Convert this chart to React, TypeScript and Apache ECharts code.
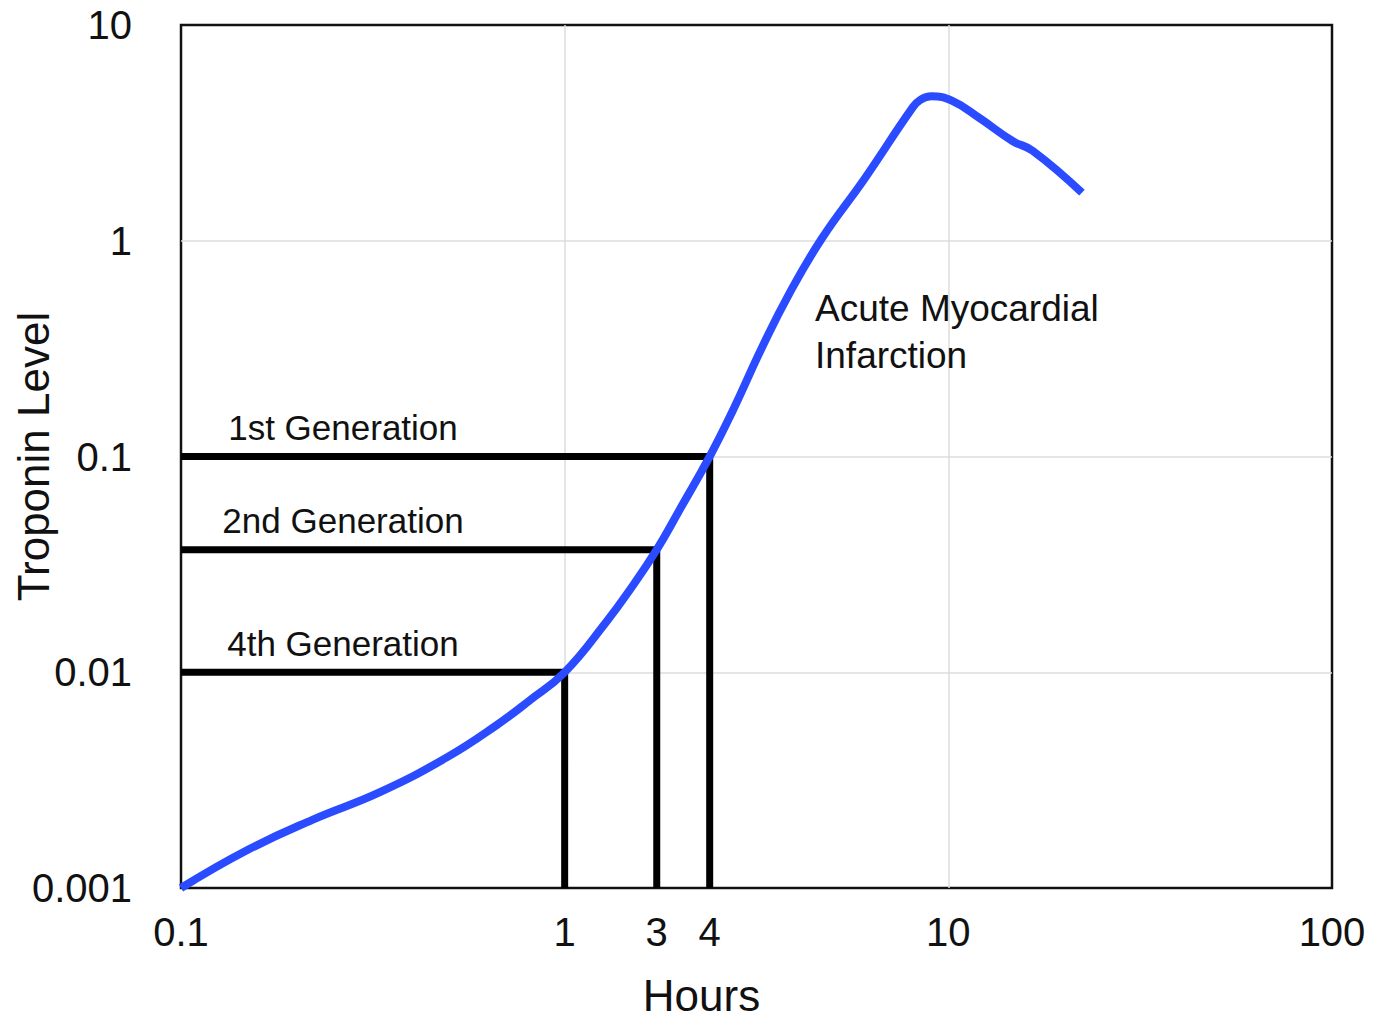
import React, { useEffect, useRef } from "react";
import * as echarts from "echarts";

// Schematic hours axis: decades are evenly spaced, with 3 h and 4 h placed at fixed stops.
const hourKnots = [0.1, 1, 3, 4, 10, 100];
const hourTickLabels = ["0.1", "1", "3", "4", "10", "100"];
const knotStops = [0, 1, 1.24, 1.378, 2, 3];

// Troponin level after onset of acute myocardial infarction
const curveHours = [
  0.1, 0.149, 0.22, 0.33, 0.493, 0.665, 0.811, 1, 1.65, 2.17, 3, 3.4, 4, 4.37,
  4.89, 5.43, 6.16, 7.25, 8.71, 8.98, 9.37, 10.24, 12.04, 14.7, 16.6, 22.3,
];
const curveLevels = [
  0.001, 0.0015, 0.00207, 0.00278, 0.00403, 0.00569, 0.00741, 0.01, 0.0172,
  0.024, 0.037, 0.0568, 0.1, 0.163, 0.32, 0.569, 1.03, 1.94, 4.13, 4.5, 4.67,
  4.45, 3.71, 2.9, 2.61, 1.67,
];

// Assay generations: detection limit and the hour at which it is reached
const generationNames = ["1st Generation", "2nd Generation", "4th Generation"];
const generationLimits = [0.1, 0.037, 0.01];
const generationHours = [4, 3, 1];

const yTickLabels = ["0.001", "0.01", "0.1", "1", "10"];

const FONT = "'Liberation Sans', Arial, Helvetica, sans-serif";
const INK = "#111111";

const GRID = { left: 181, right: 44, top: 25, bottom: 130 };

function hourToStop(h: number): number {
  for (let i = 0; i < hourKnots.length - 1; i++) {
    const a = hourKnots[i];
    const b = hourKnots[i + 1];
    if (h <= b || i === hourKnots.length - 2) {
      const t = Math.log(h / a) / Math.log(b / a);
      return knotStops[i] + t * (knotStops[i + 1] - knotStops[i]);
    }
  }
  return 0;
}

function stopLabel(v: number): string {
  for (let i = 0; i < knotStops.length; i++) {
    if (Math.abs(knotStops[i] - v) < 1e-6) return hourTickLabels[i];
  }
  return "";
}

export default function App() {
  const ref = useRef<HTMLDivElement>(null);

  useEffect(() => {
    if (!ref.current) return;
    const chart = echarts.init(ref.current, null, { renderer: "svg" });

    const yMin = Number(yTickLabels[0]);
    const yMax = Number(yTickLabels[yTickLabels.length - 1]);

    const generationSeries = generationNames.map((name, i) => ({
      type: "line",
      name,
      data: [
        [hourToStop(hourKnots[0]), generationLimits[i]],
        [hourToStop(generationHours[i]), generationLimits[i]],
        [hourToStop(generationHours[i]), yMin],
      ],
      showSymbol: false,
      symbol: "none",
      lineStyle: { color: "#000000", width: 7, join: "miter", cap: "butt" },
      z: 3,
    }));

    const option: any = {
      animation: false,
      backgroundColor: "#ffffff",
      grid: {
        ...GRID,
        outerBoundsMode: "none",
        containLabel: false,
        show: true,
        borderColor: "#111111",
        borderWidth: 2.5,
        backgroundColor: "transparent",
      },
      xAxis: {
        type: "value",
        min: 0,
        max: 3,
        interval: 1,
        name: "Hours",
        nameLocation: "middle",
        nameGap: 85,
        nameMoveOverlap: false,
        nameTextStyle: {
          fontFamily: FONT,
          fontSize: 44,
          lineHeight: 44,
          color: INK,
          padding: [0, 110, 0, 0],
        },
        axisLine: { show: false },
        axisTick: { show: false },
        axisLabel: {
          customValues: knotStops,
          formatter: (v: number) => stopLabel(v),
          fontFamily: FONT,
          fontSize: 40,
          color: INK,
          margin: 24,
          showMinLabel: true,
          showMaxLabel: true,
        },
        splitLine: {
          show: true,
          showMinLine: false,
          showMaxLine: false,
          lineStyle: { color: "#dcdcdc", width: 1.5 },
        },
      },
      yAxis: {
        type: "log",
        logBase: 10,
        min: yMin,
        max: yMax,
        name: "Troponin Level",
        nameLocation: "middle",
        nameGap: 126,
        nameMoveOverlap: false,
        nameTextStyle: { fontFamily: FONT, fontSize: 44, color: INK },
        axisLine: { show: false },
        axisTick: { show: false },
        axisLabel: {
          formatter: (v: number) => {
            const s = String(Number(v.toPrecision(3)));
            return yTickLabels.includes(s) ? s : "";
          },
          fontFamily: FONT,
          fontSize: 40,
          color: INK,
          margin: 49,
          showMinLabel: true,
          showMaxLabel: true,
        },
        splitLine: {
          show: true,
          showMinLine: false,
          showMaxLine: false,
          lineStyle: { color: "#dcdcdc", width: 1.5 },
        },
      },
      series: [
        ...generationSeries,
        {
          type: "line",
          name: "Acute Myocardial Infarction",
          data: curveHours.map((h, i) => [hourToStop(h), curveLevels[i]]),
          smooth: 0.45,
          showSymbol: false,
          symbol: "none",
          lineStyle: { color: "#2a4bff", width: 8, cap: "butt" },
          z: 4,
        },
      ],
    };

    chart.setOption(option);

    // Generation captions sit just above each detection-limit line.
    const captions = generationNames.map((name, i) => {
      const p = chart.convertToPixel({ gridIndex: 0 }, [0, generationLimits[i]]) as number[];
      return {
        type: "text",
        x: GRID.left + 162,
        y: p[1] - 29,
        style: {
          text: name,
          fill: INK,
          fontFamily: FONT,
          fontSize: 35,
          align: "center",
          verticalAlign: "middle",
        },
        z: 10,
      };
    });

    chart.setOption({
      graphic: [
        ...captions,
        {
          type: "text",
          x: 815,
          y: 285,
          style: {
            text: "Acute Myocardial\nInfarction",
            fill: INK,
            fontFamily: FONT,
            fontSize: 37,
            lineHeight: 47,
            align: "left",
            verticalAlign: "top",
          },
          z: 10,
        },
      ],
    });

    return () => chart.dispose();
  }, []);

  return (
    <div
      ref={ref}
      style={{ position: "fixed", left: 0, top: 0, width: 1376, height: 1018, background: "#fff" }}
    />
  );
}
